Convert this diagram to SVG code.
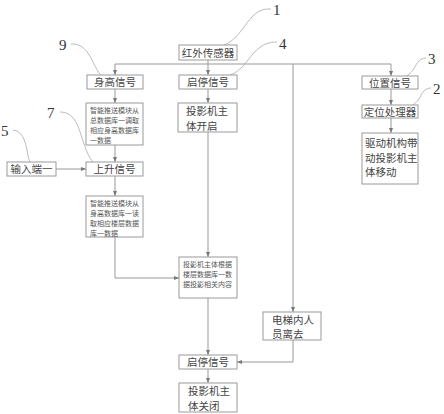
<svg xmlns="http://www.w3.org/2000/svg" width="444" height="414" viewBox="0 0 444 414">
<style>
.b{fill:#fff;stroke:#9a9a9a;stroke-width:1}
.t{font-family:"Noto Sans CJK SC","Liberation Serif",serif;fill:#444;font-size:10.5px}
.s{font-family:"Noto Sans CJK SC","Liberation Serif",serif;fill:#555;font-size:7px}
.n{font-family:"Liberation Serif",serif;fill:#333;font-size:15px}
.c{fill:none;stroke:#999;stroke-width:1}
.l{fill:none;stroke:#aaa;stroke-width:0.8}
</style>
<defs>
<marker id="a" markerWidth="6" markerHeight="6" refX="5" refY="3" orient="auto" markerUnits="userSpaceOnUse">
<path d="M0,1 L5,3 L0,5 Z" fill="#777"/>
</marker>
</defs>
<rect width="444" height="414" fill="#fff"/>
<g id="connectors">
<line class="c" x1="208" y1="60" x2="208" y2="64"/>
<line class="c" x1="115" y1="64" x2="391" y2="64"/>
<line class="c" x1="115" y1="64" x2="115" y2="75" marker-end="url(#a)"/>
<line class="c" x1="208" y1="64" x2="208" y2="75" marker-end="url(#a)"/>
<line class="c" x1="391" y1="64" x2="391" y2="76" marker-end="url(#a)"/>
<line class="c" x1="293" y1="64" x2="293" y2="312" marker-end="url(#a)"/>
<line class="c" x1="115" y1="89" x2="115" y2="103" marker-end="url(#a)"/>
<line class="c" x1="208" y1="89" x2="208" y2="103" marker-end="url(#a)"/>
<line class="c" x1="391" y1="89" x2="391" y2="105" marker-end="url(#a)"/>
<line class="c" x1="391" y1="118" x2="391" y2="133" marker-end="url(#a)"/>
<line class="c" x1="115" y1="145" x2="115" y2="162" marker-end="url(#a)"/>
<line class="c" x1="56" y1="169" x2="86" y2="169" marker-end="url(#a)"/>
<line class="c" x1="115" y1="176" x2="115" y2="196" marker-end="url(#a)"/>
<polyline class="c" points="115,237 115,278 179,278" marker-end="url(#a)"/>
<line class="c" x1="208" y1="132" x2="208" y2="257" marker-end="url(#a)"/>
<line class="c" x1="208" y1="298" x2="208" y2="355" marker-end="url(#a)"/>
<polyline class="c" points="293,340 293,362 237,362" marker-end="url(#a)"/>
<line class="c" x1="208" y1="369" x2="208" y2="383" marker-end="url(#a)"/>
</g>
<g id="leaders">
<path class="l" d="M271,9 C258,8 252,16 244,27 C236,38 230,43 224,45"/>
<path class="l" d="M277,42 C262,42 256,50 248,60 C241,69 236,73 230,75"/>
<path class="l" d="M71,44 C82,43 88,52 92,60 C96,68 98,72 101,75"/>
<path class="l" d="M426,58 C418,58 416,66 413,70 C410,74 408,75 406,76"/>
<path class="l" d="M431,88 C423,88 421,96 419,99 C417,102 415,103 413,105"/>
<path class="l" d="M60,112 C74,112 78,125 82,138 C86,150 89,158 93,162"/>
<path class="l" d="M13,130 C22,131 25,140 27,150 C28,156 29,160 30,162"/>
<text class="n" x="273" y="15">1</text>
<text class="n" x="279" y="49">4</text>
<text class="n" x="59" y="50">9</text>
<text class="n" x="428" y="64">3</text>
<text class="n" x="433" y="94">2</text>
<text class="n" x="47" y="118">7</text>
<text class="n" x="1" y="136">5</text>
</g>
<g id="n-hongwai"><rect class="b" x="179" y="45" width="58" height="15"/><text class="t" x="208" y="56.5" text-anchor="middle">红外传感器</text></g>
<g id="n-shengao"><rect class="b" x="87" y="75" width="56" height="14"/><text class="t" x="115" y="86" text-anchor="middle">身高信号</text></g>
<g id="n-qiting1"><rect class="b" x="179" y="75" width="58" height="14"/><text class="t" x="208" y="86" text-anchor="middle">启停信号</text></g>
<g id="n-weizhi"><rect class="b" x="362" y="76" width="56" height="13"/><text class="t" x="390" y="86.5" text-anchor="middle">位置信号</text></g>
<g id="n-dingwei"><rect class="b" x="362" y="105" width="56" height="13"/><text class="t" x="390" y="115.5" text-anchor="middle" font-size="10">定位处理器</text></g>
<g id="n-qudong"><rect class="b" x="362" y="133" width="56" height="51"/><text class="t" font-size="10"><tspan x="365" y="147">驱动机构带</tspan><tspan x="365" y="161.5">动投影机主</tspan><tspan x="365" y="176">体移动</tspan></text></g>
<g id="n-tuisong1"><rect class="b" x="86" y="103" width="57" height="42"/><text class="s"><tspan x="90" y="113">智能推送模块从</tspan><tspan x="90" y="123">总数据库一调取</tspan><tspan x="90" y="133">相应身高数据库</tspan><tspan x="90" y="143">一数据</tspan></text></g>
<g id="n-kaiqi"><rect class="b" x="178" y="103" width="59" height="29"/><text class="t" font-size="10"><tspan x="186" y="115">投影机主</tspan><tspan x="186" y="129.5">体开启</tspan></text></g>
<g id="n-shuru"><rect class="b" x="7" y="162" width="49" height="14"/><text class="t" x="31.5" y="173" text-anchor="middle">输入端一</text></g>
<g id="n-shangsheng"><rect class="b" x="86" y="162" width="57" height="14"/><text class="t" x="114.5" y="173" text-anchor="middle">上升信号</text></g>
<g id="n-tuisong2"><rect class="b" x="86" y="196" width="57" height="41"/><text class="s"><tspan x="90" y="206">智能推送模块从</tspan><tspan x="90" y="216">身高数据库一读</tspan><tspan x="90" y="226">取相应楼层数据</tspan><tspan x="90" y="236">库一数据</tspan></text></g>
<g id="n-genju"><rect class="b" x="179" y="257" width="58" height="41"/><text class="s"><tspan x="183" y="267">投影机主体根据</tspan><tspan x="183" y="277">楼层数据库一数</tspan><tspan x="183" y="287">据投影相关内容</tspan></text></g>
<g id="n-likai"><rect class="b" x="263" y="312" width="58" height="28"/><text class="t" font-size="10"><tspan x="272" y="323.5">电梯内人</tspan><tspan x="272" y="338">员离去</tspan></text></g>
<g id="n-qiting2"><rect class="b" x="179" y="355" width="58" height="14"/><text class="t" x="208" y="366" text-anchor="middle">启停信号</text></g>
<g id="n-guanbi"><rect class="b" x="179" y="383" width="58" height="29"/><text class="t" font-size="10"><tspan x="188" y="395">投影机主</tspan><tspan x="188" y="409.5">体关闭</tspan></text></g>
</svg>
